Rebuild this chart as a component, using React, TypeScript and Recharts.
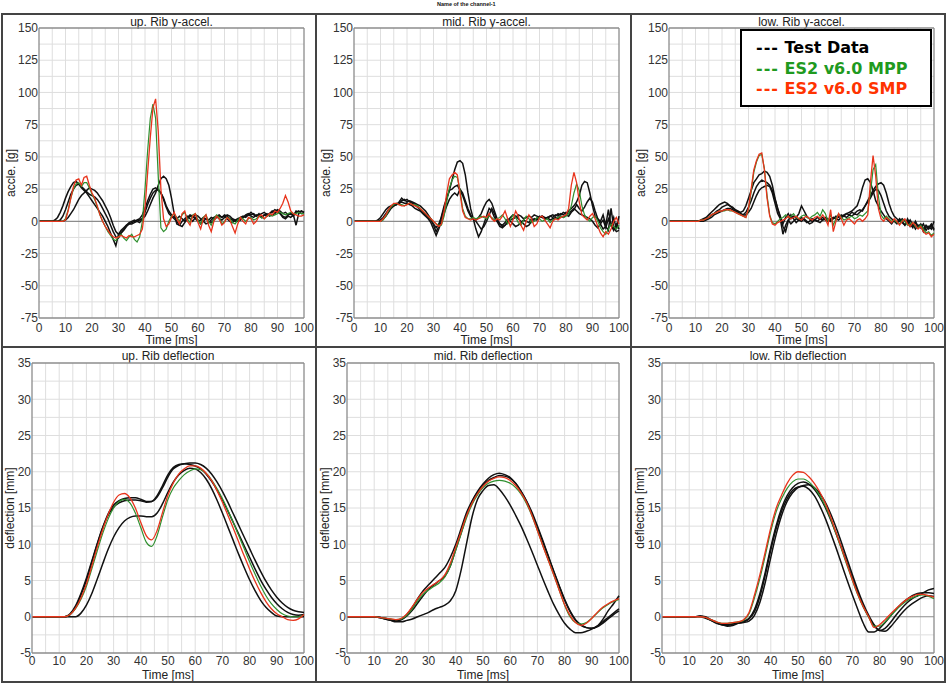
import React from 'react';
import { LineChart, Line, XAxis, YAxis, ReferenceLine } from 'recharts';

// sampling times [ms]
const T_ACC = [
  0, 1, 2, 3, 4, 5, 6, 7, 8, 9, 10, 11, 12, 13, 14, 15, 16, 17, 18, 19, 20, 21, 22, 23, 24, 25, 26, 27, 28, 29,
  30, 31, 32, 33, 34, 35, 36, 37, 38, 39, 40, 41, 42, 43, 44, 45, 46, 47, 48, 49, 50, 51, 52, 53, 54, 55, 56, 57, 58, 59,
  60, 61, 62, 63, 64, 65, 66, 67, 68, 69, 70, 71, 72, 73, 74, 75, 76, 77, 78, 79, 80, 81, 82, 83, 84, 85, 86, 87, 88, 89,
  90, 91, 92, 93, 94, 95, 96, 97, 98, 99, 100,
];
const T_DEF = [
  0, 2, 4, 6, 8, 10, 12, 14, 16, 18, 20, 22, 24, 26, 28, 30, 32, 34, 36, 38, 40, 42, 44, 46, 48, 50,
  52, 54, 56, 58, 60, 62, 64, 66, 68, 70, 72, 74, 76, 78, 80, 82, 84, 86, 88, 90, 92, 94, 96, 98, 100,
];

const X_TICKS = [0, 10, 20, 30, 40, 50, 60, 70, 80, 90, 100];
const X_GRID = [5, 10, 15, 20, 25, 30, 35, 40, 45, 50, 55, 60, 65, 70, 75, 80, 85, 90, 95];
const ACC_TICKS = [-75, -50, -25, 0, 25, 50, 75, 100, 125, 150];
const ACC_GRID = [-62.5, -50, -37.5, -25, -12.5, 12.5, 25, 37.5, 50, 62.5, 75, 87.5, 100, 112.5, 125, 137.5];
const DEF_TICKS = [-5, 0, 5, 10, 15, 20, 25, 30, 35];
const DEF_GRID = [-2.5, 2.5, 5, 7.5, 10, 12.5, 15, 17.5, 20, 22.5, 25, 27.5, 30, 32.5];

// ---- upper rib acceleration [g]
const UP_ACC_TEST1 = [
  0, 0, 0, 0, 0, 0, 1, 3, 7, 12, 18, 23, 27, 30, 31, 29, 26, 24, 22, 19, 16, 13, 10, 7, 4, 0, -4, -9, -14, -19,
  -10, -7, -5, -3, -2, -1, 0, 1, 2, 5, 10, 16, 21, 25, 26, 24, 22, 18, 12, 8, 5, 3, 2, 4, 2, 0, 3, 5, 4, 2,
  0, 1, 3, 2, 0, -1, 1, 3, 4, 3, 5, 4, 2, 1, 0, 1, 2, 3, 5, 6, 5, 6, 4, 5, 6, 7, 5, 6, 8, 7,
  9, 8, 6, 7, 5, 6, 4, 8, 7, 8, 7,
];
const UP_ACC_TEST2 = [
  0, 0, 0, 0, 0, 0, 0, 0, 1, 4, 9, 15, 21, 25, 28, 29, 27, 25, 23, 21, 20, 19, 17, 14, 10, 6, 2, -3, -8, -12,
  -13, -9, -7, -4, -2, -2, -1, 0, -1, 2, 7, 13, 18, 22, 24, 25, 22, 17, 11, 6, 4, 2, 0, -3, -4, -1, 2, 4, 3, 5,
  4, 2, 0, -2, -1, 1, 3, 4, 2, 1, 3, 5, 4, 2, 1, 0, 1, 3, 4, 5, 4, 3, 5, 4, 3, 5, 6, 4, 5, 6,
  8, 6, 3, 2, 4, 3, 5, -3, 6, 8, 7,
];
const UP_ACC_TEST3 = [
  0, 0, 0, 0, 0, 0, 0, 0, 0, 0, 1, 3, 6, 9, 13, 17, 20, 22, 24, 26, 25, 24, 22, 19, 16, 12, 8, 3, -3, -8,
  -10, -9, -6, -3, -1, 0, 1, 0, 1, 2, 4, 8, 13, 18, 22, 28, 33, 35, 33, 28, 18, 6, -2, -3, 0, 2, 4, 2, 0, 3,
  1, -2, 0, 2, 1, 3, 2, 4, 5, 3, 4, 2, 0, -1, 1, 2, 3, 4, 3, 5, 7, 5, 4, 6, 3, 5, 4, 6, 7, 9,
  8, 6, 4, 3, 5, 6, 5, 7, 8, 6, 6,
];
const UP_ACC_MPP = [
  0, 0, 0, 0, 0, 0, 0, 0, 0, 0, 2, 9, 18, 25, 29, 30, 27, 30, 30, 26, 21, 17, 11, 5, 0, -4, -8, -11, -14, -15,
  -12, -10, -13, -15, -12, -10, -14, -16, -12, 0, 25, 55, 80, 91, 80, 35, -5, -8, -6, 0, 4, 6, 3, 0, 5, 7, 2, -1, 5, 6,
  1, -2, 3, 5, 0, -3, 2, 5, 3, -2, 0, 3, 2, -1, -2, 1, 3, 2, 0, 2, 3, 1, 2, 4, 3, 2, 4, 5, 4, 5,
  6, 7, 6, 5, 6, 7, 6, 6, 7, 6, 6,
];
const UP_ACC_SMP = [
  0, 0, 0, 0, 0, 0, 0, 0, 0, 0, 1, 8, 18, 27, 32, 33, 28, 34, 35, 28, 22, 18, 12, 5, 0, -4, -7, -10, -12, -13,
  -12, -11, -12, -13, -11, -12, -12, -11, -10, -6, 10, 38, 65, 88, 95, 70, 25, 2, -4, -2, 3, 7, 2, -2, 6, 8, 0, -3, 4, 6,
  -1, -6, 2, 5, -3, -8, 0, 4, 2, -3, -1, 3, 1, -4, -9, -2, 3, 0, -2, 3, 2, -2, 0, 4, 5, 2, 4, 6, 5, 8,
  7, 10, 14, 20, 15, 8, 6, 5, 4, 4, 5,
];

// ---- middle rib acceleration [g]
const MID_ACC_TEST1 = [
  0, 0, 0, 0, 0, 0, 0, 0, 0, 1, 3, 6, 9, 11, 12, 13, 13, 14, 16, 17, 15, 16, 15, 14, 13, 12, 10, 8, 5, 2,
  -3, -8, -4, 4, 12, 18, 24, 32, 40, 46, 47, 45, 36, 22, 10, 2, -6, -12, -8, -2, 4, 10, 8, 3, 0, -2, -4, -3, -1, 1,
  2, 3, 5, 4, 2, 3, 4, 3, 5, 4, 3, 4, 3, 2, 4, 5, 4, 6, 5, 7, 6, 8, 10, 12, 15, 20, 28, 31, 30, 22,
  12, 4, 2, 0, 5, -3, 9, -4, 3, -6, 4,
];
const MID_ACC_TEST2 = [
  0, 0, 0, 0, 0, 0, 0, 0, 0, 0, 1, 3, 6, 9, 11, 12, 13, 15, 18, 16, 17, 15, 14, 13, 11, 9, 7, 5, 3, 1,
  -2, -5, -2, 3, 10, 18, 24, 25, 27, 28, 24, 20, 14, 8, 4, 2, 1, 3, 6, 11, 15, 17, 14, 8, 2, -2, -3, -1, 2, 0,
  -2, -4, -3, -1, 1, 0, -1, 2, 1, 2, 4, 3, 2, 3, 1, 2, 3, 2, 4, 3, 5, 4, 7, 9, 13, 10, 8, 11, 15, 18,
  15, 8, 2, -2, 1, -5, 2, -3, -7, -2, -6,
];
const MID_ACC_TEST3 = [
  0, 0, 0, 0, 0, 0, 0, 0, 0, 0, 0, 2, 4, 7, 10, 12, 13, 14, 15, 14, 14, 13, 12, 10, 9, 8, 6, 4, 2, -1,
  -6, -11, -6, 0, 6, 12, 17, 20, 22, 20, 25, 22, 16, 10, 5, 2, 0, -3, -6, -4, 0, 5, 10, 6, 0, -4, -5, -3, 0, 3,
  5, 4, 2, 0, -2, -4, -3, 0, 2, 1, 3, 4, 2, 3, 4, 3, 5, 4, 6, 5, 7, 6, 8, 10, 8, 6, 5, 4, 3, 2,
  0, -3, -5, -2, -6, -4, -7, 10, -5, -8, -7,
];
const MID_ACC_MPP = [
  0, 0, 0, 0, 0, 0, 0, 0, 0, 0, 0, 1, 4, 8, 11, 13, 14, 13, 13, 12, 13, 14, 13, 13, 12, 10, 8, 6, 4, 2,
  0, -2, -3, -3, 4, 15, 26, 32, 35, 34, 24, 10, 4, 2, 2, 3, 2, 3, 4, 3, 2, 4, 3, 1, 2, 3, 5, 2, -2, 1,
  5, 3, -1, -3, 1, 4, 2, -1, 0, 3, 2, 0, 1, 2, -1, 1, 2, 3, 4, 3, 4, 6, 12, 22, 29, 24, 12, 5, 2, 0,
  3, 4, 0, -5, -8, -10, -6, -2, -4, -6, -3,
];
const MID_ACC_SMP = [
  0, 0, 0, 0, 0, 0, 0, 0, 0, 0, 0, 2, 5, 9, 12, 14, 14, 13, 12, 12, 13, 14, 13, 12, 11, 10, 8, 6, 4, 2,
  0, -2, -4, -2, 8, 22, 33, 36, 38, 36, 22, 8, 3, 2, 1, 2, 1, 2, 3, 4, 3, 6, 2, 0, 2, 1, 4, 8, 2, -4,
  1, 8, 4, -3, -7, 0, 5, 2, -4, -2, 3, 4, 1, -2, -5, 0, 2, 1, 3, 4, 5, 10, 28, 38, 30, 15, 5, 3, 1, 4,
  6, 2, -4, -9, -12, -8, -10, -6, 0, 3, -2,
];

// ---- lower rib acceleration [g]
const LOW_ACC_TEST1 = [
  0, 0, 0, 0, 0, 0, 0, 0, 0, 0, 0, 0, 1, 2, 3, 5, 7, 9, 11, 13, 14, 15, 14, 12, 10, 9, 8, 7, 8, 12,
  18, 24, 30, 33, 36, 37, 39, 38, 35, 28, 18, 10, 4, -2, 3, 6, 2, 4, 3, 6, 12, 8, 4, 2, 0, 1, 3, 2, 1, 3,
  2, 0, 2, 4, 3, 5, 4, 6, 7, 8, 10, 12, 18, 26, 32, 33, 30, 24, 16, 12, 8, 5, 2, 0, -2, 1, -1, 2, 0, -3,
  2, -2, -5, 0, -4, -2, -6, -3, -5, -2, -6,
];
const LOW_ACC_TEST2 = [
  0, 0, 0, 0, 0, 0, 0, 0, 0, 0, 0, 0, 0, 1, 2, 3, 5, 6, 8, 9, 11, 12, 13, 12, 11, 9, 7, 6, 5, 7,
  11, 16, 22, 27, 30, 32, 31, 30, 28, 24, 17, 10, 3, -4, -8, 0, 5, 2, -1, 1, 3, 1, -1, 0, 2, 1, 0, 2, 3, 1,
  0, 2, 3, 2, 4, 3, 5, 6, 5, 7, 6, 8, 9, 8, 12, 16, 20, 24, 27, 29, 30, 28, 22, 14, 8, 4, 2, 0, 2, 0,
  -2, 1, -3, -1, -5, -3, -8, -4, -6, -3, -7,
];
const LOW_ACC_TEST3 = [
  0, 0, 0, 0, 0, 0, 0, 0, 0, 0, 0, 0, 0, 0, 1, 2, 3, 5, 6, 7, 8, 9, 10, 10, 9, 8, 7, 6, 5, 5,
  7, 10, 15, 20, 24, 26, 27, 28, 27, 22, 14, 6, 2, -10, -3, 1, -2, 0, 2, 1, 0, 2, 0, -2, -1, 1, 0, -1, 1, 2,
  0, 1, 3, 2, 1, 3, 4, 3, 5, 4, 6, 5, 7, 9, 12, 15, 18, 22, 25, 24, 20, 14, 8, 4, 2, 0, -2, 1, -1, -3,
  0, -4, -2, -6, -3, -5, -2, -7, -4, -6, 0,
];
const LOW_ACC_MPP = [
  0, 0, 0, 0, 0, 0, 0, 0, 0, 0, 0, 0, 1, 1, 2, 3, 5, 6, 7, 8, 8, 8, 9, 8, 8, 7, 6, 5, 4, 3,
  9, 23, 38, 46, 51, 52, 41, 20, 5, -1, -2, 0, 2, 3, 5, 3, 4, 6, 3, 2, 4, 5, 3, 2, 4, 5, 7, 4, 9, 6,
  0, 5, -3, 2, 6, 3, 1, 2, 3, 4, 2, 3, 5, 4, 6, 8, 22, 40, 44, 20, 5, 2, 4, 2, 0, 1, -1, -2, 1, 0,
  -3, -2, -1, -4, -5, -3, -6, -9, -8, -11, -9,
];
const LOW_ACC_SMP = [
  0, 0, 0, 0, 0, 0, 0, 0, 0, 0, 0, 0, 1, 1, 2, 3, 5, 6, 7, 8, 8, 9, 9, 9, 8, 7, 6, 5, 4, 3,
  10, 25, 40, 47, 52, 53, 40, 18, 4, -2, -3, -1, 0, 1, 2, 4, 2, 3, 4, 2, 1, 3, 4, 2, 1, 3, 4, 2, 5, 2,
  -3, 9, -8, 0, 6, 2, -3, 1, 2, 0, -2, 1, 2, 0, 2, 5, 30, 51, 35, 10, 2, 0, 3, 1, -1, 2, 0, -3, 0, 2,
  -2, -4, -1, -3, -6, -4, -8, -10, -9, -12, -10,
];

// ---- upper rib deflection [mm]
const UP_DEF_TEST1 = [
  0, 0, 0, 0, 0, 0, 0, 0.3, 1.3, 3, 5, 7.5, 10, 12.3, 14.2, 15.4, 16, 16.3, 16.4, 16.4, 16.2, 15.9, 15.9, 16.5, 17.8, 19.3,
  20.4, 20.9, 21.1, 21.2, 21.2, 21, 20.5, 19.7, 18.6, 17.3, 15.8, 14.2, 12.6, 11, 9.4, 7.8, 6.3, 4.9, 3.7, 2.7, 1.9, 1.3, 0.9, 0.7, 0.6,
];
const UP_DEF_TEST2 = [
  0, 0, 0, 0, 0, 0, 0, 0, 0, 0.5, 1.6, 3.2, 5.2, 7.3, 9.3, 11, 12.3, 13.2, 13.7, 13.9, 13.9, 13.8, 13.8, 14.3, 15.6, 17.2,
  18.6, 19.6, 20.2, 20.5, 20.4, 19.9, 19, 17.7, 16.1, 14.3, 12.4, 10.5, 8.6, 6.8, 5.1, 3.6, 2.3, 1.3, 0.6, 0.1, 0, 0, 0, 0, 0,
];
const UP_DEF_TEST3 = [
  0, 0, 0, 0, 0, 0, 0, 0.4, 1.5, 3.2, 5.3, 7.7, 10.1, 12.3, 14, 15.1, 15.7, 16, 16.1, 16.1, 16, 15.8, 15.9, 16.7, 18.1, 19.6,
  20.6, 21, 21.1, 21, 20.8, 20.4, 19.7, 18.7, 17.5, 16.1, 14.6, 13, 11.4, 9.8, 8.2, 6.6, 5.1, 3.8, 2.7, 1.8, 1.1, 0.6, 0.3, 0.2, 0.3,
];
const UP_DEF_MPP = [
  0, 0, 0, 0, 0, 0, 0, 0.3, 1.1, 2.4, 4.2, 6.6, 9.1, 11.5, 13.5, 15, 15.9, 16.2, 15.7, 14.3, 12.3, 10.3, 9.7, 11.2, 13.8, 16.2,
  17.8, 18.8, 19.6, 20.1, 20.4, 20.3, 19.8, 18.9, 17.7, 16.3, 14.7, 13, 11.2, 9.4, 7.6, 5.9, 4.3, 2.9, 1.8, 1, 0.4, 0.1, 0, 0, 0.2,
];
const UP_DEF_SMP = [
  0, 0, 0, 0, 0, 0, 0, 0.3, 1.2, 2.6, 4.5, 7, 9.6, 12, 14.1, 15.8, 16.8, 17, 16.4, 15, 13, 11.2, 10.6, 11.9, 14.4, 16.8,
  18.5, 19.7, 20.4, 20.8, 20.8, 20.5, 19.8, 18.8, 17.4, 15.8, 14, 12.2, 10.3, 8.4, 6.6, 4.9, 3.4, 2.1, 1.1, 0.4, 0, -0.4, -0.5, -0.3, 0.3,
];

// ---- middle rib deflection [mm]
const MID_DEF_TEST1 = [
  0, 0, 0, 0, 0, 0, -0.1, -0.3, -0.5, -0.6, -0.4, 0.3, 1.3, 2.5, 3.6, 4.4, 5.2, 6, 6.8, 8.2, 10, 12.2, 14.4, 16, 17.3, 18.3,
  19.1, 19.6, 19.8, 19.6, 19.2, 18.4, 17.3, 16, 14.4, 12.5, 10.5, 8.4, 6.3, 4.3, 2.4, 0.8, -0.4, -1.1, -1.5, -1.6, -1.3, -0.4, 0.8, 1.8, 2.9,
];
const MID_DEF_TEST2 = [
  0, 0, 0, 0, 0, 0, -0.1, -0.3, -0.5, -0.7, -0.7, -0.5, -0.3, 0, 0.3, 0.6, 1, 1.3, 1.6, 2.2, 3.6, 6.5, 10.2, 13.8, 16.2, 17.4,
  18.1, 18.2, 17.6, 16.6, 15.4, 14, 12.5, 10.8, 9, 7.1, 5.2, 3.4, 1.7, 0.3, -0.9, -1.7, -2.2, -2.2, -2, -1.7, -1.3, -0.7, -0.1, 0.5, 1.1,
];
const MID_DEF_TEST3 = [
  0, 0, 0, 0, 0, 0, -0.1, -0.2, -0.4, -0.5, -0.4, 0.1, 0.9, 1.9, 2.9, 3.8, 4.4, 5, 5.6, 7, 9.3, 11.6, 14, 15.9, 17.2, 18.1,
  18.8, 19.2, 19.5, 19.4, 19.1, 18.4, 17.3, 15.9, 14.2, 12.3, 10.3, 8.3, 6.2, 4.2, 2.3, 0.7, -0.5, -1.2, -1.5, -1.6, -1.4, -0.9, -0.3, 0.3, 0.8,
];
const MID_DEF_MPP = [
  0, 0, 0, 0, 0, 0, -0.1, -0.2, -0.3, -0.4, -0.3, 0.2, 1.1, 2.2, 3.1, 3.7, 4.2, 4.7, 5.5, 7, 9.2, 11.5, 13.7, 15.5, 16.8, 17.8,
  18.4, 18.7, 18.8, 18.7, 18.4, 17.8, 16.9, 15.6, 13.9, 11.9, 9.8, 7.8, 5.8, 3.7, 1.6, 0, -0.8, -1, -0.8, -0.2, 0.5, 1.2, 1.7, 2.1, 2.4,
];
const MID_DEF_SMP = [
  0, 0, 0, 0, 0, 0, -0.1, -0.2, -0.3, -0.4, -0.2, 0.4, 1.4, 2.5, 3.4, 4, 4.5, 5, 5.8, 7.4, 9.6, 11.8, 14, 15.7, 17, 18,
  18.7, 19.1, 19.3, 19.2, 18.8, 18.1, 17.1, 15.8, 14, 11.9, 9.8, 7.8, 5.8, 3.7, 1.7, 0.2, -0.8, -1.2, -0.9, -0.2, 0.6, 1.3, 1.8, 2.2, 2.5,
];

// ---- lower rib deflection [mm]
const LOW_DEF_TEST1 = [
  0, 0, 0, 0, 0, 0, 0, 0.1, -0.1, -0.5, -0.9, -1.1, -1.2, -1, -0.8, -0.6, -0.2, 1, 3.2, 6.2, 9.6, 12.6, 15, 16.7, 17.8, 18.4,
  18.6, 18.3, 17.6, 16.5, 15.1, 13.4, 11.5, 9.5, 7.4, 5.3, 3.3, 1.5, 0, -1.2, -1.9, -1.6, -0.8, 0.2, 1.1, 1.9, 2.5, 2.9, 3.3, 3.7, 3.9,
];
const LOW_DEF_TEST2 = [
  0, 0, 0, 0, 0, 0, 0, 0, -0.2, -0.5, -0.8, -1, -1.1, -1, -0.9, -0.8, -0.6, 0.2, 2, 4.8, 8.2, 11.4, 14, 15.9, 17.1, 17.8,
  18.1, 18.2, 17.8, 17, 15.8, 14.2, 12.3, 10.2, 8, 5.8, 3.7, 1.8, 0.2, -1.1, -1.9, -2, -1.4, -0.5, 0.4, 1.2, 1.8, 2.3, 2.7, 2.9, 2.8,
];
const LOW_DEF_TEST3 = [
  0, 0, 0, 0, 0, 0, 0, 0.1, 0, -0.4, -0.8, -1.1, -1.3, -1.2, -0.9, -0.7, -0.3, 0.7, 2.8, 5.8, 9.2, 12.2, 14.6, 16.3, 17.4, 17.9,
  18, 17.6, 16.7, 15.3, 13.6, 11.6, 9.5, 7.3, 5.1, 3, 1, -0.9, -2.1, -2.1, -1.6, -0.8, 0.1, 1, 1.8, 2.4, 2.9, 3.2, 3.3, 3.3, 3.2,
];
const LOW_DEF_MPP = [
  0, 0, 0, 0, 0, 0, 0, 0, -0.1, -0.4, -0.7, -0.9, -0.9, -0.8, -0.7, -0.5, 0.4, 2.6, 5.3, 8.5, 11.8, 14.5, 16.3, 17.7, 18.6, 19,
  19, 18.6, 17.8, 16.7, 15.3, 13.5, 11.4, 9.3, 7.1, 5, 3, 1.3, -0.1, -1.3, -1.3, -0.7, 0.1, 0.9, 1.6, 2.2, 2.6, 2.9, 3, 2.8, 2.5,
];
const LOW_DEF_SMP = [
  0, 0, 0, 0, 0, 0, 0, 0, -0.1, -0.4, -0.7, -0.9, -0.9, -0.8, -0.7, -0.4, 0.6, 3, 5.8, 9, 12.3, 15, 16.8, 18.4, 19.5, 20,
  19.9, 19.3, 18.4, 17.2, 15.7, 13.8, 11.6, 9.5, 7.3, 5.1, 3.1, 1.4, 0, -1.5, -1.1, -0.4, 0.4, 1.1, 1.8, 2.4, 2.8, 3.1, 3.1, 2.9, 2.7,
];

const SERIES_KEYS = ['test1', 'test2', 'test3', 'mpp', 'smp'];
const SERIES_COLORS = ['#111111', '#111111', '#111111', '#2f8f2f', '#e8341c'];
const SERIES_WIDTHS = [1.5, 1.5, 1.5, 1.2, 1.3];

const PANEL_W = 315;
const PANEL_H = 334;
const RIGHT_GAP = 11;
const FRAME = '#8c8c8c';
const GRID = '#dedede';

interface PanelProps {
  left: number;
  top: number;
  title: string;
  yLabel: string;
  time: number[];
  series: number[][];
  domain: [number, number];
  yTicks: number[];
  yGrid: number[];
  plotLeft: number;
  marginTop: number;
  axisHeight: number;
  tickGap: number;
  labelOffset: number;
  yLabelOffset: number;
  titleTop: number;
  curve: 'linear' | 'monotone';
}

const Panel: React.FC<PanelProps> = (p) => {
  const data = p.time.map((t, i) => {
    const row: Record<string, number> = { t };
    p.series.forEach((values, k) => {
      row[SERIES_KEYS[k]] = values[i];
    });
    return row;
  });

  return (
    <div style={{ position: 'absolute', left: p.left, top: p.top, width: PANEL_W, height: PANEL_H }}>
      <div
        style={{
          position: 'absolute',
          left: p.plotLeft,
          width: PANEL_W - p.plotLeft - RIGHT_GAP,
          top: p.titleTop,
          textAlign: 'center',
          fontSize: 12,
          lineHeight: '14px',
          color: '#222',
        }}
      >
        {p.title}
      </div>
      <LineChart width={PANEL_W} height={PANEL_H} data={data} margin={{ top: p.marginTop, right: RIGHT_GAP, bottom: 0, left: 0 }}>
        {X_GRID.map((v) => (
          <ReferenceLine key={`gx${v}`} x={v} stroke={GRID} strokeWidth={1} zIndex={-100} />
        ))}
        {p.yGrid.map((v) => (
          <ReferenceLine key={`gy${v}`} y={v} stroke={GRID} strokeWidth={1} zIndex={-100} />
        ))}
        <ReferenceLine y={0} stroke={FRAME} strokeWidth={1.2} zIndex={-90} />
        <ReferenceLine x={100} stroke={FRAME} strokeWidth={1.3} zIndex={-90} />
        <ReferenceLine y={p.domain[1]} stroke={FRAME} strokeWidth={1.3} zIndex={-90} />
        <XAxis
          dataKey="t"
          type="number"
          domain={[0, 100]}
          ticks={X_TICKS}
          interval={0}
          height={p.axisHeight}
          tickLine={false}
          tickSize={p.tickGap}
          tickMargin={0}
          axisLine={{ stroke: FRAME, strokeWidth: 1.3 }}
          tick={{ fontSize: 12, fill: '#333' }}
          label={{ value: 'Time [ms]', position: 'insideBottom', offset: p.labelOffset, style: { fontSize: 12, fill: '#222' } }}
        />
        <YAxis
          type="number"
          domain={p.domain}
          ticks={p.yTicks}
          interval={0}
          width={p.plotLeft}
          tickLine={false}
          tickSize={1}
          tickMargin={0}
          axisLine={{ stroke: FRAME, strokeWidth: 1.3 }}
          tick={{ fontSize: 12, fill: '#333' }}
          label={{
            value: p.yLabel,
            angle: -90,
            position: 'insideLeft',
            offset: p.yLabelOffset,
            style: { textAnchor: 'middle', fontSize: 12, fill: '#222' },
          }}
        />
        {SERIES_KEYS.map((key, k) => (
          <Line
            key={key}
            dataKey={key}
            type={p.curve}
            stroke={SERIES_COLORS[k]}
            strokeWidth={SERIES_WIDTHS[k]}
            dot={false}
            activeDot={false}
            isAnimationActive={false}
          />
        ))}
      </LineChart>
    </div>
  );
};

const accCommon = {
  yLabel: 'accle. [g]',
  time: T_ACC,
  domain: [-75, 150] as [number, number],
  yTicks: ACC_TICKS,
  yGrid: ACC_GRID,
  plotLeft: 39,
  marginTop: 15,
  axisHeight: 29,
  tickGap: 5,
  labelOffset: 3.5,
  yLabelOffset: 11,
  titleTop: 1.5,
  curve: 'linear' as const,
};

const defCommon = {
  yLabel: 'deflection [mm]',
  time: T_DEF,
  domain: [-5, 35] as [number, number],
  yTicks: DEF_TICKS,
  yGrid: DEF_GRID,
  plotLeft: 32,
  marginTop: 16,
  axisHeight: 28,
  tickGap: 3,
  labelOffset: 2,
  yLabelOffset: 10,
  titleTop: 1.5,
  curve: 'monotone' as const,
};

const App: React.FC = () => {
  return (
    <div
      style={{
        position: 'absolute',
        left: 0,
        top: 0,
        width: 946,
        height: 683,
        background: '#fff',
        fontFamily: '"Liberation Sans", Arial, sans-serif',
        overflow: 'hidden',
      }}
    >
      <div style={{ position: 'absolute', left: 437, top: 1, fontSize: 5.5, fontWeight: 'bold', color: '#111', whiteSpace: 'nowrap' }}>
        Name of the channel-1
      </div>

      <Panel left={0} top={13} title="up. Rib y-accel." series={[UP_ACC_TEST1, UP_ACC_TEST2, UP_ACC_TEST3, UP_ACC_MPP, UP_ACC_SMP]} {...accCommon} />
      <Panel left={315} top={13} title="mid. Rib y-accel." series={[MID_ACC_TEST1, MID_ACC_TEST2, MID_ACC_TEST3, MID_ACC_MPP, MID_ACC_SMP]} {...accCommon} />
      <Panel left={630} top={13} title="low. Rib y-accel." series={[LOW_ACC_TEST1, LOW_ACC_TEST2, LOW_ACC_TEST3, LOW_ACC_MPP, LOW_ACC_SMP]} {...accCommon} />
      <Panel left={0} top={347} title="up. Rib deflection" series={[UP_DEF_TEST1, UP_DEF_TEST2, UP_DEF_TEST3, UP_DEF_MPP, UP_DEF_SMP]} {...defCommon} />
      <Panel left={315} top={347} title="mid. Rib deflection" series={[MID_DEF_TEST1, MID_DEF_TEST2, MID_DEF_TEST3, MID_DEF_MPP, MID_DEF_SMP]} {...defCommon} />
      <Panel left={630} top={347} title="low. Rib deflection" series={[LOW_DEF_TEST1, LOW_DEF_TEST2, LOW_DEF_TEST3, LOW_DEF_MPP, LOW_DEF_SMP]} {...defCommon} />

      {/* panel frames */}
      <div style={{ position: 'absolute', left: 1, top: 13, width: 945, height: 670, border: '2px solid #444', boxSizing: 'border-box' }} />
      <div style={{ position: 'absolute', left: 314.5, top: 13, width: 2, height: 670, background: '#444' }} />
      <div style={{ position: 'absolute', left: 629.5, top: 13, width: 2, height: 670, background: '#444' }} />
      <div style={{ position: 'absolute', left: 1, top: 346, width: 945, height: 2, background: '#444' }} />

      {/* legend */}
      <div
        style={{
          position: 'absolute',
          left: 740,
          top: 29,
          width: 192,
          height: 78,
          border: '2px solid #000',
          boxSizing: 'border-box',
          background: '#fff',
          padding: '7px 0 0 14px',
          fontFamily: '"DejaVu Sans", Verdana, sans-serif',
          fontWeight: 'bold',
          fontSize: 16,
          lineHeight: '20.5px',
          whiteSpace: 'pre',
        }}
      >
        <div style={{ color: '#000' }}><span style={{ letterSpacing: 1 }}>---</span> Test Data</div>
        <div style={{ color: '#1f9a1f' }}><span style={{ letterSpacing: 1 }}>---</span> ES2 v6.0 MPP</div>
        <div style={{ color: '#ff3300' }}><span style={{ letterSpacing: 1 }}>---</span> ES2 v6.0 SMP</div>
      </div>
    </div>
  );
};

export default App;
